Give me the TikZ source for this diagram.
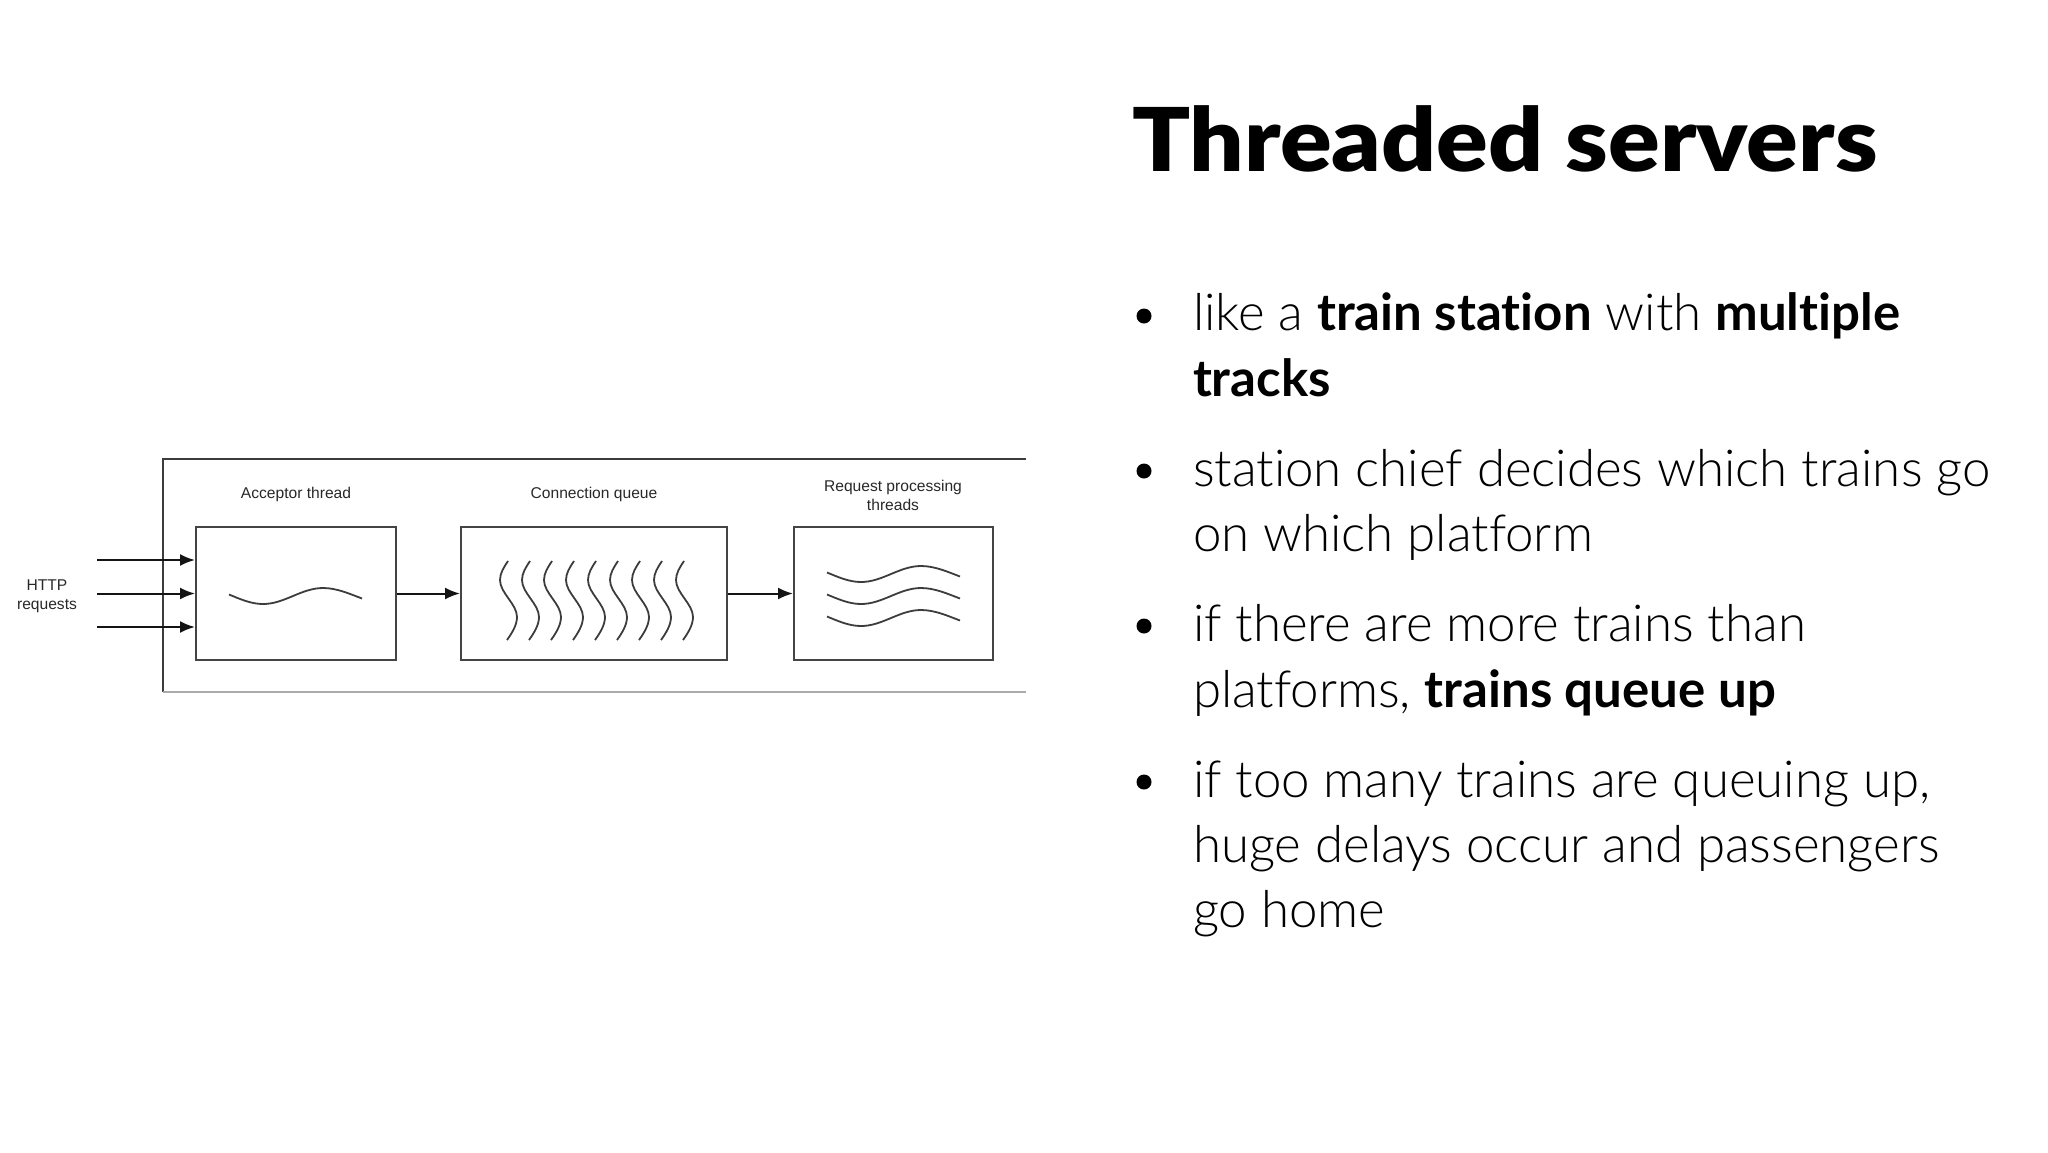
\documentclass[tikz,border=0pt]{standalone}
\usepackage{fontspec}
\usetikzlibrary{arrows.meta}
\setmainfont{Liberation Sans}
\newfontfamily\slidefont{Lato Light}[BoldFont={Lato Bold},Ligatures=NoCommon]
\newfontfamily\titlefont{Lato Black}[FakeStretch=1.09]

\tikzset{every picture/.style={line width=1pt}}

\begin{document}
\begin{tikzpicture}[x=0.5pt,y=0.5pt,yscale=-1,xscale=1,
  box/.style={draw={rgb,255:red,68;green,68;blue,68},minimum height=66.5pt,inner sep=0pt},
  lbl/.style={font=\fontsize{7.8}{9.5}\selectfont,color={rgb,255:red,40;green,40;blue,40},align=center,inner sep=0.75pt},
  arr/.style={-{Latex[length=7.5pt,width=6pt]},color={rgb,255:red,20;green,20;blue,20}},
  wave/.style={color={rgb,255:red,60;green,60;blue,60},line width=0.9pt},
  line/.style={font=\slidefont\fontsize{25.5}{31}\selectfont,anchor=base west,inner sep=0pt},
  dot/.style={circle,fill=black,inner sep=0pt,minimum size=7.5pt}]
\useasboundingbox (0,0) rectangle (2048,1152);

%Frame (open on the right)
\draw [color={rgb, 255:red, 60; green, 60; blue, 60 }]   (1026,459) -- (163,459) -- (163,692) ;
\draw [color={rgb, 255:red, 170; green, 170; blue, 170 }]   (163,692) -- (1026,692) ;

%Boxes
\node [box, minimum width=100pt] (acceptor) at (296,593.5) {};
\node [box, minimum width=133pt] (queue) at (594,593.5) {};
\node [box, minimum width=99.5pt] (process) at (893.5,593.5) {};

% Text Node
\node [lbl] (acclbl) at (296,494) {Acceptor thread};
% Text Node
\node [lbl] (queuelbl) at (594,494) {Connection queue};
% Text Node
\node [lbl] (proclbl) at (893,495) {Request processing\\threads};
% Text Node
\node [lbl] (http) at (47,596) {HTTP\\requests};

%Incoming requests
\coordinate (in1) at (97,560);
\coordinate (in2) at (97,593.5);
\coordinate (in3) at (97,627);
\draw [arr] (in1) -- (in1 -| acceptor.west) ;
\draw [arr] (in2) -- (in2 -| acceptor.west) ;
\draw [arr] (in3) -- (in3 -| acceptor.west) ;
\draw [arr] (acceptor) -- (queue) ;
\draw [arr] (queue) -- (process) ;

%Shape: Wave (acceptor thread)
\draw [wave] (229,594.5) .. controls (240,599) and (251,604) .. (263,604) .. controls (284.6,604) and (301.4,588) .. (323,588) .. controls (337,588) and (350,594) .. (362,598.5) ;
%Shape: Wave (processing threads)
\foreach \dy in {-22,0,22}
  \draw [wave, shift={(598,\dy)}] (229,594.5) .. controls (240,599) and (251,604) .. (263,604) .. controls (284.6,604) and (301.4,588) .. (323,588) .. controls (337,588) and (350,594) .. (362,598.5) ;
%Shape: Wave (queued connections)
\foreach \i in {0,...,8}
  \draw [wave, shift={(22*\i,0)}] (508,561) .. controls (504,567) and (500,573) .. (500,580) .. controls (500,593) and (517,604) .. (517,617) .. controls (517,625) and (512,633) .. (507,640) ;

% Title
\node [anchor=base west, inner sep=0pt, font=\titlefont\fontsize{44}{50}\selectfont] (title) at (1131,171) {Threaded servers};

% Bullets
\node [dot] (b1) at (1144,316) {};
\node [dot] (b2) at (1144,471) {};
\node [dot] (b3) at (1144,626) {};
\node [dot] (b4) at (1144,782) {};

\node [line] (t1a) at (1192,330) {like a \textbf{train station} with \textbf{multiple}};
\node [line] (t1b) at (1192,396) {\textbf{tracks}};
\node [line] (t2a) at (1192,486) {station chief decides which trains go};
\node [line] (t2b) at (1192,551) {on which platform};
\node [line] (t3a) at (1192,641) {if there are more trains than};
\node [line] (t3b) at (1192,707) {platforms, \textbf{trains queue up}};
\node [line] (t4a) at (1192,797) {if too many trains are queuing up,};
\node [line] (t4b) at (1192,862) {huge delays occur and passengers};
\node [line] (t4c) at (1192,927) {go home};

\end{tikzpicture}
\end{document}
